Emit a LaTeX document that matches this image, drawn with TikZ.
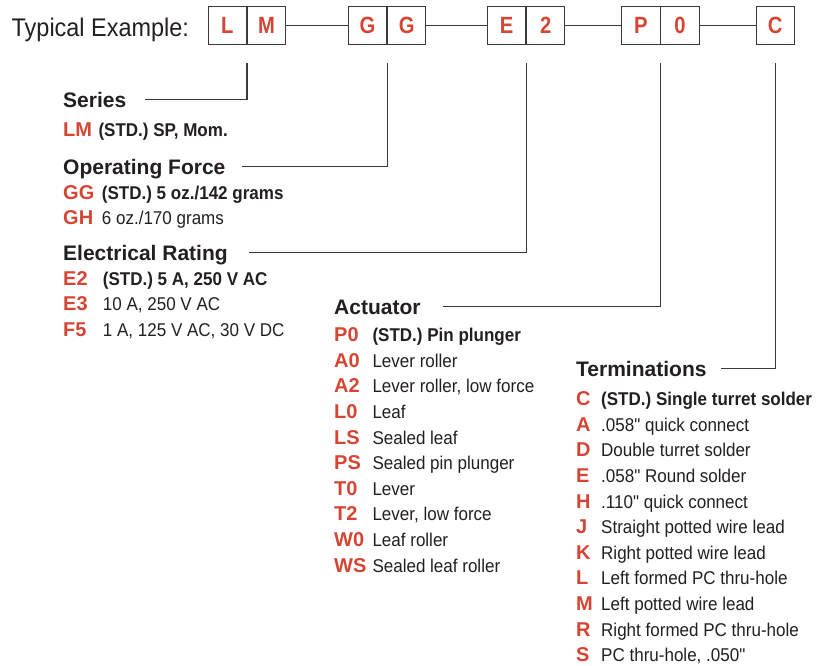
\documentclass[tikz,border=0pt]{standalone}
\usepackage{fontspec}
\setmainfont{Liberation Sans}
\newfontfamily\narrowfont[FakeStretch=0.92]{Liberation Sans}
\newfontfamily\boxfont[FakeStretch=0.86]{Liberation Sans}
\usepackage{tikz}
\usetikzlibrary{positioning}
\usepackage{xcolor}
\definecolor{ink}{HTML}{231F20}
\definecolor{codered}{HTML}{D64534}
\definecolor{rule}{HTML}{3A3A3A}

\begin{document}
\begin{tikzpicture}[x=1pt, y=-1pt,
  digit/.style={draw=rule, line width=0.9pt, minimum width=38.3pt, minimum height=38.5pt, inner sep=0pt, text=codered, font=\boxfont\fontsize{23.5}{24}\selectfont\bfseries},
  head/.style={anchor=base west, inner sep=0pt, text height=15.6pt, text depth=0pt, text=ink, font=\fontsize{21}{24}\selectfont\bfseries},
  key/.style={anchor=base west, inner sep=0pt, text=codered, font=\fontsize{20}{22}\selectfont\bfseries},
  desc/.style={anchor=base west, inner sep=0pt, text=ink, font=\narrowfont\fontsize{18.5}{22}\selectfont},
  std/.style={desc, font=\narrowfont\fontsize{18.5}{22}\selectfont\bfseries},
  lead/.style={draw=rule, line width=1.1pt}
]
  \useasboundingbox (0,0) rectangle (820,665);

  % part number row
  \node[anchor=base west, inner sep=0pt, text=ink, font=\narrowfont\fontsize{25.5}{28}\selectfont] (typ) at (11.5,36.7) {Typical Example:};
  \node[digit] (bL) at (227.4,25.25) {L};
  \node[digit, right=0pt of bL] (bM) {M};
  \node[digit] (bG1) at (367.5,25.25) {G};
  \node[digit, right=0pt of bG1] (bG2) {G};
  \node[digit] (bE) at (506.5,25.25) {E};
  \node[digit, right=0pt of bE] (b2) {2};
  \node[digit] (bP) at (640.8,25.25) {P};
  \node[digit, right=0pt of bP] (b0) {0};
  \node[digit] (bC) at (775.2,25.25) {C};

  \draw[lead] (bM) -- (bG1);
  \draw[lead] (bG2) -- (bE);
  \draw[lead] (b2) -- (bP);
  \draw[lead] (b0) -- (bC);

  % series
  \node[head] (hSer) at (63,107.3) {Series};
  \node[key] (ser-LM) at (63,136) {LM};
  \node[std] (dser-LM) at (98.3,136) {(STD.) SP, Mom.};

  % operating force
  \node[head] (hOp) at (63,174.3) {Operating Force};
  \node[key] (op-GG) at (63,199) {GG};
  \node[std] (dop-GG) at (101.7,199) {(STD.) 5 oz./142 grams};
  \node[key] (op-GH) at (63,224.5) {GH};
  \node[desc] (dop-GH) at (101.7,224.5) {6 oz./170 grams};

  % electrical rating
  \node[head] (hEl) at (63,260) {Electrical Rating};
  \node[key] (el-E2) at (63,285) {E2};
  \node[std] (del-E2) at (102.7,285) {(STD.) 5 A, 250 V AC};
  \foreach \k/\d [count=\i] in {E3/{10 A, 250 V AC}, F5/{1 A, 125 V AC, 30 V DC}}
    {\node[key] (el-\k) at (63,285+25.5*\i) {\k};
     \node[desc] (del-\k) at (102.7,285+25.5*\i) {\d};}

  % actuator
  \node[head] (hAct) at (334,314) {Actuator};
  \node[key] (act-P0) at (334,341.7) {P0};
  \node[std] (dact-P0) at (372.3,341.7) {(STD.) Pin plunger};
  \foreach \k/\d [count=\i] in {A0/Lever roller, A2/{Lever roller, low force}, L0/Leaf,
      LS/Sealed leaf, PS/Sealed pin plunger, T0/Lever, T2/{Lever, low force},
      W0/Leaf roller, WS/Sealed leaf roller}
    {\node[key] (act-\k) at (334,341.7+25.6*\i) {\k};
     \node[desc] (dact-\k) at (372.3,341.7+25.6*\i) {\d};}

  % terminations
  \node[head] (hTrm) at (576,376.7) {Terminations};
  \node[key] (trm-C) at (576,405.7) {C};
  \node[std] (dtrm-C) at (601,405.7) {(STD.) Single turret solder};
  \foreach \k/\d [count=\i] in {A/.058" quick connect, D/Double turret solder,
      E/.058" Round solder, H/.110" quick connect, J/Straight potted wire lead,
      K/Right potted wire lead, L/Left formed PC thru-hole, M/Left potted wire lead,
      R/Right formed PC thru-hole, S/{PC thru-hole, .050"}}
    {\node[key] (trm-\k) at (576,405.7+25.6*\i) {\k};
     \node[desc] (dtrm-\k) at (601,405.7+25.6*\i) {\d};}

  % leaders
  \draw[lead] ([yshift=-18.5pt]bL.south east) |- ([xshift=19pt]hSer.east);
  \draw[lead] ([yshift=-18.5pt]bG1.south east) |- ([xshift=16.5pt]hOp.east);
  \draw[lead] ([yshift=-18.5pt]bE.south east) |- ([xshift=21.4pt]hEl.east);
  \draw[lead] ([yshift=-18.5pt]bP.south east) |- ([xshift=22.4pt]hAct.east);
  \draw[lead] ([yshift=-18.5pt]bC.south) |- ([xshift=14.4pt]hTrm.east);
\end{tikzpicture}
\end{document}
